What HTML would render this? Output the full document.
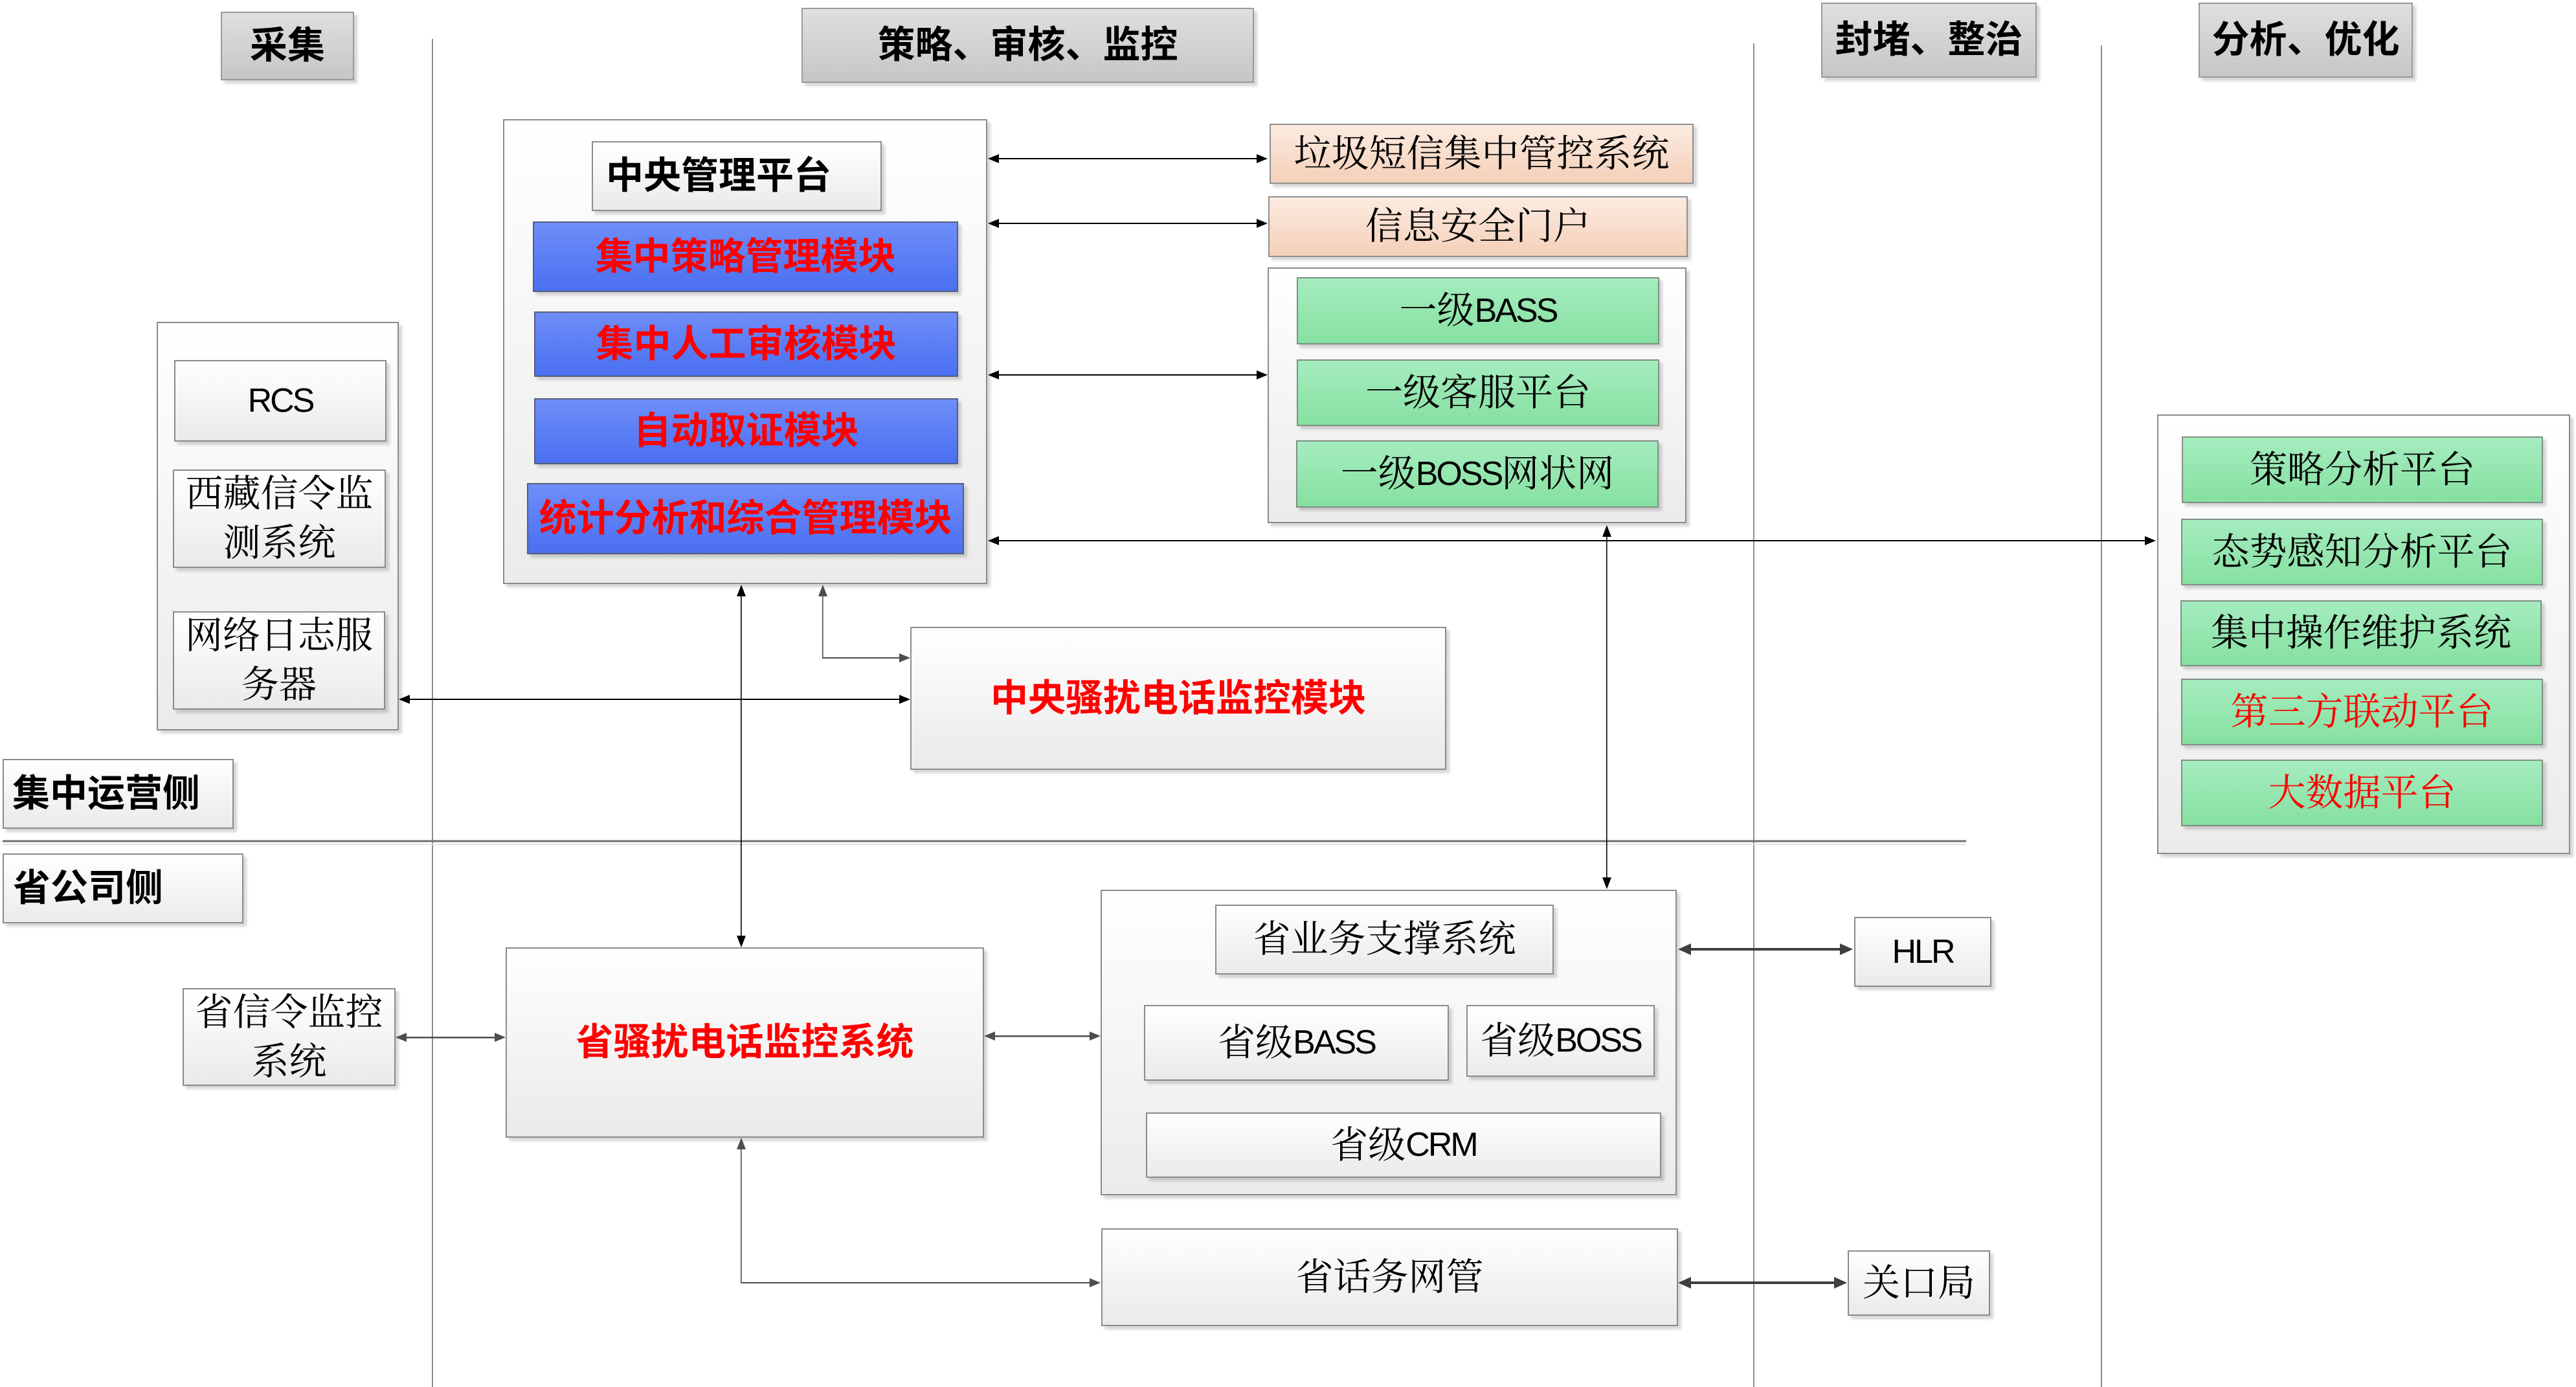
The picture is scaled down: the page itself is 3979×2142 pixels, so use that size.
<!DOCTYPE html>
<html>
<head>
<meta charset="utf-8">
<style>
html,body{margin:0;padding:0;background:#fff;}
body{width:3979px;height:2142px;position:relative;overflow:hidden;}
.bx{position:absolute;box-sizing:border-box;border:2px solid #8b8b8b;display:flex;align-items:center;justify-content:center;text-align:center;box-shadow:5px 5px 4px rgba(0,0,0,.16);font-size:58px;line-height:1.2;color:#000;font-family:"Liberation Sans","Noto Serif CJK SC",serif;white-space:nowrap;}
.w{background:linear-gradient(#ffffff,#eaeaea);}
.c{background:linear-gradient(#ffffff,#ebebeb);}
.h{background:linear-gradient(#dfdfdf,#c6c6c6);border-color:#9a9a9a;}
.bl{background:linear-gradient(#6e8ef8,#4a6ff1);border-color:#56607a;}
.g{background:linear-gradient(#a5ecbf,#86e0a1);border-color:#7f8f82;}
.o{background:linear-gradient(#fcebe1,#f4d0b8);border-color:#8f8f8f;}
.b{font-family:"Liberation Sans","Noto Sans CJK SC",sans-serif;font-weight:700;}
.r{color:#ff0000;}
.lat{font-family:"Liberation Sans Narrow","Liberation Sans",sans-serif;font-size:52px;letter-spacing:-3px;}
.ml{line-height:76px;}
svg{position:absolute;left:0;top:0;z-index:5;}
</style>
</head>
<body>

<!-- Lane headers -->
<div class="bx h b" style="left:341px;top:18px;width:206px;height:106px;">采集</div>
<div class="bx h b" style="left:1238px;top:12px;width:699px;height:116px;">策略、审核、监控</div>
<div class="bx h b" style="left:2813px;top:4px;width:333px;height:116px;">封堵、整治</div>
<div class="bx h b" style="left:3396px;top:4px;width:331px;height:116px;">分析、优化</div>

<!-- Central container -->
<div class="bx c" style="left:777px;top:184px;width:748px;height:718px;"></div>
<div class="bx w b" style="left:914px;top:218px;width:448px;height:108px;justify-content:flex-start;padding-left:20px;">中央管理平台</div>
<div class="bx bl b r" style="left:823px;top:342px;width:657px;height:109px;">集中策略管理模块</div>
<div class="bx bl b r" style="left:825px;top:481px;width:655px;height:101px;">集中人工审核模块</div>
<div class="bx bl b r" style="left:825px;top:615px;width:655px;height:102px;">自动取证模块</div>
<div class="bx bl b r" style="left:814px;top:746px;width:675px;height:110px;">统计分析和综合管理模块</div>

<!-- Collection container -->
<div class="bx c" style="left:242px;top:497px;width:374px;height:631px;"></div>
<div class="bx w" style="left:269px;top:556px;width:328px;height:126px;"><span class="lat">RCS</span></div>
<div class="bx w ml" style="left:267px;top:725px;width:329px;height:152px;">西藏信令监<br>测系统</div>
<div class="bx w ml" style="left:267px;top:944px;width:328px;height:152px;">网络日志服<br>务器</div>

<!-- Central harassment module -->
<div class="bx w b r" style="left:1406px;top:968px;width:828px;height:221px;">中央骚扰电话监控模块</div>

<!-- Orange boxes -->
<div class="bx o" style="left:1961px;top:191px;width:655px;height:93px;">垃圾短信集中管控系统</div>
<div class="bx o" style="left:1959px;top:303px;width:648px;height:94px;">信息安全门户</div>

<!-- BASS container -->
<div class="bx c" style="left:1958px;top:413px;width:647px;height:395px;"></div>
<div class="bx g" style="left:2003px;top:428px;width:560px;height:104px;">一级<span class="lat">BASS</span></div>
<div class="bx g" style="left:2003px;top:555px;width:560px;height:103px;">一级客服平台</div>
<div class="bx g" style="left:2002px;top:680px;width:560px;height:104px;">一级<span class="lat">BOSS</span>网状网</div>

<!-- Right container -->
<div class="bx c" style="left:3332px;top:640px;width:638px;height:679px;"></div>
<div class="bx g" style="left:3370px;top:674px;width:558px;height:103px;">策略分析平台</div>
<div class="bx g" style="left:3369px;top:801px;width:559px;height:103px;">态势感知分析平台</div>
<div class="bx g" style="left:3368px;top:927px;width:558px;height:102px;">集中操作维护系统</div>
<div class="bx g r" style="left:3369px;top:1048px;width:559px;height:103px;">第三方联动平台</div>
<div class="bx g r" style="left:3369px;top:1173px;width:559px;height:103px;">大数据平台</div>

<!-- Side labels -->
<div class="bx w b" style="left:4px;top:1172px;width:357px;height:108px;justify-content:flex-start;padding-left:13px;">集中运营侧</div>
<div class="bx w b" style="left:4px;top:1318px;width:372px;height:108px;justify-content:flex-start;padding-left:14px;">省公司侧</div>

<!-- Province side -->
<div class="bx w ml" style="left:282px;top:1526px;width:329px;height:151px;">省信令监控<br>系统</div>
<div class="bx w b r" style="left:781px;top:1463px;width:739px;height:294px;">省骚扰电话监控系统</div>

<div class="bx c" style="left:1700px;top:1374px;width:890px;height:472px;"></div>
<div class="bx w" style="left:1877px;top:1397px;width:523px;height:108px;">省业务支撑系统</div>
<div class="bx w" style="left:1767px;top:1552px;width:471px;height:117px;">省级<span class="lat">BASS</span></div>
<div class="bx w" style="left:2265px;top:1552px;width:291px;height:111px;">省级<span class="lat">BOSS</span></div>
<div class="bx w" style="left:1770px;top:1718px;width:796px;height:101px;">省级<span class="lat">CRM</span></div>

<div class="bx w" style="left:1701px;top:1897px;width:891px;height:151px;">省话务网管</div>
<div class="bx w" style="left:2864px;top:1416px;width:212px;height:108px;"><span class="lat">HLR</span></div>
<div class="bx w" style="left:2854px;top:1931px;width:220px;height:101px;">关口局</div>

<svg width="3979" height="2142" viewBox="0 0 3979 2142" xmlns="http://www.w3.org/2000/svg">
  <!-- swim lane lines -->
  <line x1="668" y1="60" x2="668" y2="2142" stroke="#8c8c8c" stroke-width="2"/>
  <line x1="2709" y1="67" x2="2709" y2="2142" stroke="#8c8c8c" stroke-width="2"/>
  <line x1="3246" y1="70" x2="3246" y2="2142" stroke="#8c8c8c" stroke-width="2"/>
  <!-- horizontal divider -->
  <line x1="4" y1="1299" x2="3037" y2="1299" stroke="#6f6f6f" stroke-width="3"/>
  <line x1="4" y1="1304" x2="3037" y2="1304" stroke="#e2e2e2" stroke-width="2"/>

  <!-- black arrows -->
  <g fill="#000" stroke="none">
    <rect x="1540" y="244" width="404" height="2"/>
    <polygon points="1526,245 1543,238 1543,252"/>
    <polygon points="1958,245 1941,238 1941,252"/>
    <rect x="1540" y="344" width="404" height="2"/>
    <polygon points="1526,345 1543,338 1543,352"/>
    <polygon points="1958,345 1941,338 1941,352"/>
    <rect x="1540" y="578" width="404" height="2"/>
    <polygon points="1526,579 1543,572 1543,586"/>
    <polygon points="1958,579 1941,572 1941,586"/>
    <rect x="1540" y="834" width="1776" height="2"/>
    <polygon points="1526,835 1543,828 1543,842"/>
    <polygon points="3330,835 3313,828 3313,842"/>
    <rect x="2481" y="826" width="1.6" height="532"/>
    <polygon points="2482,811 2475,829 2489,829"/>
    <polygon points="2482,1373 2475,1355 2489,1355"/>
    <rect x="1144" y="918" width="1.6" height="530"/>
    <polygon points="1145,903 1138,921 1152,921"/>
    <polygon points="1145,1463 1138,1445 1152,1445"/>
    <rect x="630" y="1079" width="762" height="2"/>
    <polygon points="616,1080 633,1073 633,1087"/>
    <polygon points="1406,1080 1389,1073 1389,1087"/>
  </g>

  <!-- gray thin connectors -->
  <g fill="#4d4d4d" stroke="none">
    <rect x="1270" y="918" width="1.6" height="99"/>
    <rect x="1270" y="1015" width="124" height="2"/>
    <polygon points="1271,903 1264,921 1278,921"/>
    <polygon points="1406,1016 1389,1009 1389,1023"/>
    <rect x="625" y="1601" width="142" height="2.5"/>
    <polygon points="611,1602 628,1595 628,1609"/>
    <polygon points="781,1602 764,1595 764,1609"/>
    <rect x="1534" y="1599" width="152" height="2.5"/>
    <polygon points="1520,1600 1537,1593 1537,1607"/>
    <polygon points="1700,1600 1683,1593 1683,1607"/>
    <rect x="1144" y="1772" width="1.6" height="210"/>
    <rect x="1144" y="1980" width="542" height="2"/>
    <polygon points="1145,1757 1138,1775 1152,1775"/>
    <polygon points="1700,1981 1683,1974 1683,1988"/>
  </g>

  <!-- thick dark arrows -->
  <g fill="#3f3f3f" stroke="none">
    <rect x="2610" y="1464" width="234" height="4"/>
    <polygon points="2592,1466 2612,1457 2612,1475"/>
    <polygon points="2862,1466 2842,1457 2842,1475"/>
    <rect x="2610" y="1979" width="225" height="4"/>
    <polygon points="2592,1981 2612,1972 2612,1990"/>
    <polygon points="2853,1981 2833,1972 2833,1990"/>
  </g>
</svg>

</body>
</html>
